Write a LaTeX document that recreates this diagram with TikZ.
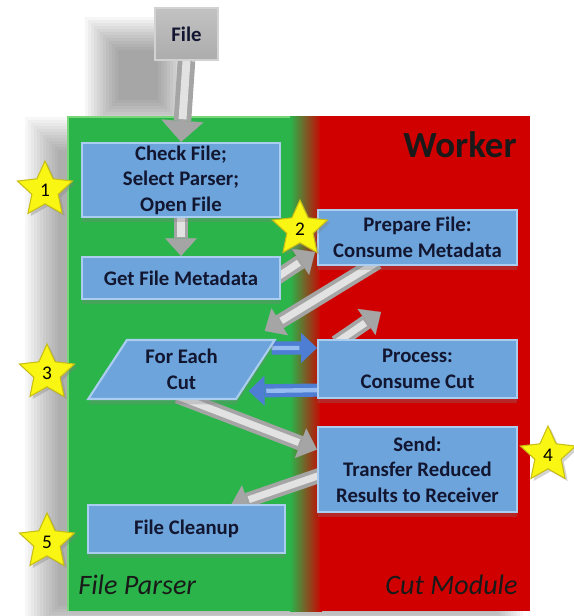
\documentclass[tikz,border=0pt]{standalone}
\usepackage{fontspec}
\setmainfont{Carlito}
\usetikzlibrary{calc,arrows.meta,shapes.geometric,shadows}

\definecolor{parsergreen}{RGB}{42,180,74}
\definecolor{parseredge}{RGB}{120,215,120}
\definecolor{workerred}{RGB}{208,0,0}
\definecolor{boxblue}{RGB}{108,164,219}
\definecolor{boxedge}{RGB}{170,205,240}
\definecolor{boxtext}{RGB}{18,22,48}
\definecolor{pipegray}{RGB}{165,165,165}
\definecolor{pipelight}{RGB}{226,226,226}
\definecolor{pipeblue}{RGB}{78,126,212}
\definecolor{pipebluelight}{RGB}{150,188,240}
\definecolor{staryellow}{RGB}{250,246,20}
\definecolor{staredge}{RGB}{200,190,20}

\pgfdeclarelayer{back}
\pgfdeclarelayer{pipes}
\pgfsetlayers{back,pipes,main}

\begin{document}
\begin{tikzpicture}[x=0.02cm, y=-0.02cm,
    stepbox/.style={rectangle, fill=boxblue, draw=boxedge, line width=1.2pt, text=boxtext,
      align=center, inner sep=0pt, font=\bfseries\fontsize{11.8}{14.5}\selectfont,
      drop shadow={opacity=0.3, shadow xshift=0pt, shadow yshift=-3pt}},
    filebox/.style={rectangle, top color=gray!48, bottom color=gray!65, draw=gray!35,
      line width=1pt, text=boxtext, inner sep=0pt, font=\bfseries\fontsize{11.8}{14.5}\selectfont},
    numstar/.style={star, star points=5, star point ratio=2.1, minimum size=1.16cm, inner sep=0pt,
      fill=staryellow, draw=staredge, line width=0.6pt, font=\fontsize{11}{13}\selectfont,
      drop shadow={opacity=0.35, shadow xshift=1.5pt, shadow yshift=-1.5pt}},
    panellabel/.style={inner sep=0pt, text=black!90},
    pipe/.style={line width=8.5pt, draw=pipegray,
      -{Triangle[width=18pt,length=10pt,line width=0.1pt]},
      postaction={draw=pipelight, line width=4pt, -, shorten >=11pt}},
    bigpipe/.style={line width=10pt, draw=pipegray,
      -{Triangle[width=24pt,length=12pt,line width=0.1pt]},
      postaction={draw=pipelight, line width=4.5pt, -, shorten >=13pt}},
    bluepipe/.style={line width=7.5pt, draw=pipeblue,
      -{Triangle[width=17pt,length=9pt,line width=0.1pt]},
      postaction={draw=pipebluelight, line width=2.5pt, -, shorten >=10pt}},
  ]
  \useasboundingbox (0,0) rectangle (574,616);

  \begin{pgfonlayer}{back}
    % soft shadows
    \foreach \k in {0,...,11}
      \fill[black, opacity=0.03] (58-3*\k, 150-3*\k) rectangle (490+3*\k, 606+3*\k);
    \foreach \k in {0,...,11}
      \fill[black, opacity=0.035] (118-3*\k, 50-3*\k) rectangle (158+3*\k, 100+3*\k);
    % panels
    \fill[parsergreen] (67,116) rectangle (292,611);
    \shade[left color=parsergreen, right color=workerred] (290,116) rectangle (322,611);
    \fill[workerred] (320,116) rectangle (530,611);
    \draw[parseredge, line width=1.5pt] (68,611) -- (68,117) -- (290,117);
  \end{pgfonlayer}

  \node[panellabel, anchor=base east, font=\bfseries\fontsize{21}{24}\selectfont] (worker) at (517,157) {Worker};
  \node[panellabel, anchor=base west, font=\itshape\fontsize{16}{19}\selectfont] (parserlbl) at (78,594) {File Parser};
  \node[panellabel, anchor=base east, font=\itshape\fontsize{16}{19}\selectfont] (cutlbl) at (518,594) {Cut Module};

  \node[filebox, minimum width=1.26cm, minimum height=1.04cm] (file) at (186.5,34) {File};
  \node[stepbox, minimum width=3.96cm, minimum height=1.48cm] (check) at (181,180) {Check File;\\Select Parser;\\Open File};
  \node[stepbox, minimum width=3.96cm, minimum height=0.84cm] (meta) at (181,278) {Get File Metadata};
  \node[stepbox, minimum width=3.98cm, minimum height=1.1cm] (prepare) at (417.5,237.5) {Prepare File:\\Consume Metadata};
  \node[stepbox, trapezium, trapezium left angle=57.5, trapezium right angle=122.5,
    trapezium stretches=true, minimum width=3.74cm, minimum height=1.18cm] (loopcut) at (181.5,369.5) {For Each\\Cut};
  \node[stepbox, minimum width=3.98cm, minimum height=1.16cm] (process) at (417.5,369) {Process:\\Consume Cut};
  \node[stepbox, minimum width=3.98cm, minimum height=1.7cm] (send) at (417.5,469.5) {Send:\\Transfer Reduced\\Results to Receiver};
  \node[stepbox, minimum width=3.94cm, minimum height=0.96cm] (cleanup) at (186.5,529) {File Cleanup};

  \node[numstar] (star1) at (45,190) {1};
  \node[numstar] (star2) at (300,229) {2};
  \node[numstar] (star3) at (47,373) {3};
  \node[numstar] (star4) at (548,455) {4};
  \node[numstar] (star5) at (47,542) {5};

  \coordinate (nextcut) at (381,312);

  \begin{pgfonlayer}{pipes}
    \draw[bigpipe] (file.south) -- (check.north);
    \draw[pipe] (check.south) -- (meta.north);
    \draw[pipe] ($(meta.east)+(-8,2)$) -- ($(prepare.south west)+(-2,-14)$);
    \draw[pipe] ($(prepare.south)+(-40,-4)$) -- ($(loopcut.top right corner)+(-12,-8)$);
    \draw[pipe] ($(process.north west)+(19,4)$) -- (nextcut);
    \draw[pipe] ($(loopcut.south)+(-4,-4)$) -- ($(send.west)+(0,-20)$);
    \draw[pipe] ($(send.west)+(8,4)$) -- ($(cleanup.north)+(44,2)$);
    \draw[bluepipe] ($(loopcut.top right corner)+(-5,9)$) -- ($(process.north west)+(0,9)$);
    \draw[bluepipe] ($(process.south west)+(4,-9)$) -- ($(loopcut.bottom right corner)+(12,-9)$);
  \end{pgfonlayer}
\end{tikzpicture}
\end{document}
